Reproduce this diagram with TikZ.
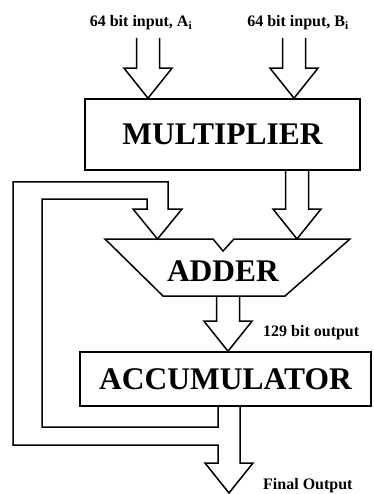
\documentclass[tikz,border=0pt]{standalone}
\usepackage{fontspec}
\setmainfont{Liberation Serif}
\usetikzlibrary{calc}
\tikzset{
  blk/.style={draw,line width=1.6pt,inner sep=0pt,font=\fontsize{31.5}{31.5}\selectfont\bfseries},
  lbl/.style={inner sep=0pt,font=\fontsize{16}{16}\selectfont\bfseries},
  fat/.style={draw,line width=1.5pt,line join=miter}
}
% fat arrow from top point #1 down to tip #2
\newcommand\fatarrow[2]{
  \draw[fat] let \p1=#1, \p2=#2 in
    (\x2-11.5pt,\y1) -- (\x2-11.5pt,\y2+30pt) -- (\x2-24pt,\y2+30pt) -- (\x2,\y2)
    -- (\x2+24pt,\y2+30pt) -- (\x2+11.5pt,\y2+30pt) -- (\x2+11.5pt,\y1);
}
\begin{document}
\begin{tikzpicture}[x=1pt,y=-1pt]
  \useasboundingbox (0,0) rectangle (373,494);
  % labels
  \node[lbl] (labA) at (141,23) {64 bit input, A\textsubscript{i}};
  \node[lbl] (labB) at (298,23) {64 bit input, B\textsubscript{i}};
  \node[lbl,anchor=west] (labS) at (263,333) {129 bit output};
  \node[lbl,anchor=west] (labF) at (263,486) {Final Output};
  % blocks
  \node[blk,minimum width=275,minimum height=71] (mul) at (222.5,134.5) {MULTIPLIER};
  \node[blk,minimum width=291,minimum height=54] (acc) at (225.5,379) {ACCUMULATOR};
  \draw[fat] (105,239) -- (213,239) -- (223,251) -- (234,239) -- (350,239)
    -- (285,296) -- (163,296) -- cycle;
  \node[blk,draw=none] (add) at (223,271) {ADDER};
  \coordinate (addtop) at (223,239);
  \coordinate (addbot) at (228,296);
  % arrows
  \coordinate (inA) at (148,38);
  \coordinate (inB) at (294,38);
  \fatarrow{(inA)}{(inA |- mul.north)}
  \fatarrow{(inB)}{(inB |- mul.north)}
  \coordinate (mulout) at (297,0);
  \fatarrow{(mulout |- mul.south)}{(mulout |- addtop)}
  \fatarrow{(addbot)}{(addbot |- acc.north)}
  % feedback and final output
  \draw[fat] (240,406) -- (240,463) -- (253,463) -- (229,493) -- (205,463)
    -- (218,463) -- (218,445) -- (13,445) -- (13,182) -- (168,182) -- (168,209)
    -- (182,209) -- (157.5,239) -- (133,209) -- (147,209) -- (147,199)
    -- (42,199) -- (42,427) -- (218,427) -- (218,406);
\end{tikzpicture}
\end{document}
